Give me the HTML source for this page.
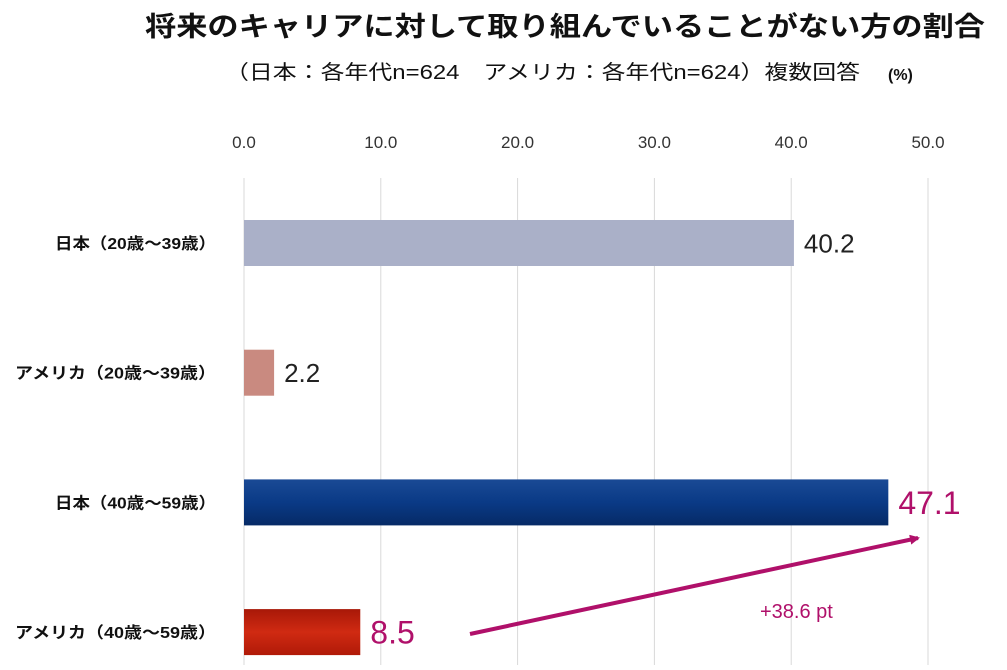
<!DOCTYPE html>
<html><head><meta charset="utf-8"><style>
body{margin:0;background:#fff;width:1007px;height:665px;overflow:hidden;font-family:"Liberation Sans","Noto Sans CJK JP",sans-serif}
</style></head><body>
<svg id="c" width="1007" height="665" xmlns="http://www.w3.org/2000/svg">
<defs>
<linearGradient id="g3" x1="0" y1="0" x2="0" y2="1"><stop offset="0" stop-color="#1a4a95"/><stop offset="0.5" stop-color="#0a3a86"/><stop offset="1" stop-color="#062a66"/></linearGradient>
<linearGradient id="g4" x1="0" y1="0" x2="0" y2="1"><stop offset="0" stop-color="#a81808"/><stop offset="0.5" stop-color="#d02a12"/><stop offset="1" stop-color="#b01a08"/></linearGradient>
<marker id="ah" markerWidth="10" markerHeight="10" refX="8" refY="5" orient="auto" markerUnits="userSpaceOnUse"><path d="M0,0 L10,5 L0,10 z" fill="#b0106a"/></marker>
</defs>
<text x="145" y="36" font-size="27" font-weight="bold" fill="#111" textLength="840" lengthAdjust="spacingAndGlyphs">将来のキャリアに対して取り組んでいることがない方の割合</text>
<text x="225" y="79" font-size="20" fill="#111" textLength="635" lengthAdjust="spacingAndGlyphs">（日本：各年代n=624　アメリカ：各年代n=624）複数回答</text>
<text x="888" y="80" font-size="16" font-weight="bold" fill="#111">(%)</text>
<g id="grid"></g><g id="bars"></g>
<line x1="470" y1="634" x2="918" y2="538" stroke="#b0106a" stroke-width="4" marker-end="url(#ah)"/>
<text x="760" y="618" font-size="20" fill="#b0106a">+38.6 pt</text>
</svg>
<script>
const categories=["日本（20歳～39歳）","アメリカ（20歳～39歳）","日本（40歳～59歳）","アメリカ（40歳～59歳）"];
const values=[40.2,2.2,47.1,8.5];
const ticks=[0,10,20,30,40,50];
const fills=["#aab0c8","#c98a80","url(#g3)","url(#g4)"];
const labelColors=["#222","#222","#b0106a","#b0106a"];
const labelSizes=[26,26,32,32];
const NS="http://www.w3.org/2000/svg";
const x=v=>244+v*13.68;
const yTop=i=>220+i*129.7;
const g=document.getElementById('grid'),b=document.getElementById('bars');
function mk(t,a,p){const e=document.createElementNS(NS,t);for(const k in a)e.setAttribute(k,a[k]);p.appendChild(e);return e;}
ticks.forEach(t=>{
 const l=mk('line',{x1:x(t),x2:x(t),y1:178,y2:665,stroke:'#d9d9d9','stroke-width':1},g);
 
 
 const tx=mk('text',{x:x(t),y:148,'text-anchor':'middle','font-size':17,fill:'#333'},g);
 tx.textContent=t.toFixed(1);
 
 
});
categories.forEach((c,i)=>{
 const y=yTop(i);
 const r=mk('rect',{x:x(0),y:y,width:x(values[i])-x(0),height:46,fill:fills[i]},b);
 
 
 const w=c.startsWith('日本')?161:201;
 const cl=mk('text',{x:216-w,y:y+29,'font-size':16,'font-weight':'bold',fill:'#111',textLength:w,lengthAdjust:'spacingAndGlyphs'},b);
 cl.textContent=c;
 
 
 const vl=mk('text',{x:x(values[i])+10,y:y+23+labelSizes[i]*0.36,'font-size':labelSizes[i],fill:labelColors[i]},b);
 vl.textContent=values[i].toFixed(1);
 
 
});
</script>
</body></html>
